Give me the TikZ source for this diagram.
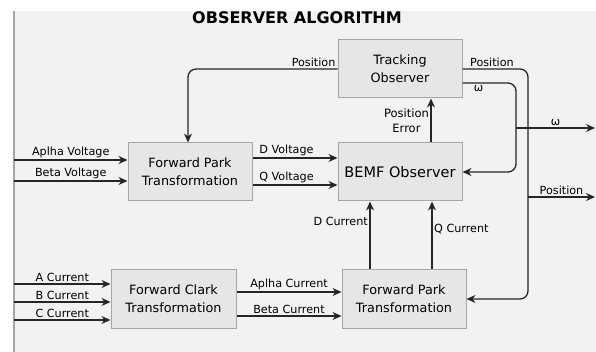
\documentclass[tikz,border=0pt]{standalone}
\usepackage{fontspec}
\setmainfont{DejaVu Sans}
\usetikzlibrary{arrows.meta}

\definecolor{panel}{HTML}{F2F2F2}
\definecolor{boxfill}{HTML}{E6E6E6}
\definecolor{boxline}{HTML}{A6A6A6}
\definecolor{wire}{HTML}{262626}

\begin{document}
\begin{tikzpicture}[x=1pt,y=-1pt,
    blk/.style={draw=boxline,fill=boxfill,line width=1pt,minimum width=124pt,minimum height=58pt,
      align=center,font=\fontsize{12.8}{18}\selectfont},
    lbl/.style={font=\fontsize{11.2}{13}\selectfont,inner sep=1.5pt},
    flow/.style={draw=wire,line width=1.3pt,-{Stealth[length=9pt,width=8pt]}},
    bus/.style={draw=wire,line width=1.3pt,rounded corners=8pt}]

      \useasboundingbox (0,0) rectangle (596,352);
      \fill[white] (0,0) rectangle (596,352);
      \fill[panel] (14,11) rectangle (596,352);
      \draw[boxline,line width=1.2pt] (14,11) -- (14,352);

      \node[font=\fontsize{16}{18}\selectfont\bfseries] (title) at (297,18) {OBSERVER ALGORITHM};

      % blocks
      \node[blk] (track) at (400,69)    {Tracking\\Observer};
      \node[blk,font=\fontsize{14.5}{16}\selectfont] (bemf) at (400,172) {BEMF Observer};
      \node[blk] (parkv) at (190,172)   {Forward Park\\Transformation};
      \node[blk,minimum width=125pt] (clark) at (173.5,299) {Forward Clark\\Transformation};
      \node[blk] (parki) at (404,299)   {Forward Park\\Transformation};

      % helper points
      \coordinate (posbus) at (528,69);
      \coordinate (wbus)   at (516,83);
      \coordinate (wtap)   at (516,128);
      \coordinate (wout)   at (595,128);
      \coordinate (postap) at (528,197);
      \coordinate (posout) at (595,197);
      \coordinate (va) at (14,160);
      \coordinate (vb) at (14,181);
      \coordinate (ia) at (14,284);
      \coordinate (ib) at (14,302);
      \coordinate (ic) at (14,320);

      % feedback from the tracking observer
      \draw[flow,rounded corners=8pt] (track.west) -- node[lbl,above,pos=0.16] {Position} (188,69) -- (parkv.north -| 188,0);
      \draw[flow,bus] (track.east) -- node[lbl,above,pos=0.45] {Position} (posbus) |- (parki.east);
      \draw[flow,bus] (track.east |- wbus) -- node[lbl,below,pos=0.3] {ω} (wbus) |- (bemf.east);
      \draw[flow] (wtap) -- node[lbl,above] {ω} (wout);
      \draw[flow] (postap) -- node[lbl,above] {Position} (posout);
      \draw[flow] (bemf.north -| 431,0) -- node[lbl,left,align=center,font=\fontsize{11.5}{15}\selectfont] {Position\\Error} (track.south -| 431,0);

      % voltages
      \draw[flow] (va) -- node[lbl,above] {Aplha Voltage} (parkv.west |- va);
      \draw[flow] (vb) -- node[lbl,above] {Beta Voltage} (parkv.west |- vb);
      \draw[flow] (parkv.east |- 0,158) -- node[lbl,above,pos=0.4] {D Voltage} (bemf.west |- 0,158);
      \draw[flow] (parkv.east |- 0,185) -- node[lbl,above,pos=0.4] {Q Voltage} (bemf.west |- 0,185);

      % currents
      \draw[flow] (ia) -- node[lbl,above] {A\,\,Current} (clark.west |- ia);
      \draw[flow] (ib) -- node[lbl,above] {B Current} (clark.west |- ib);
      \draw[flow] (ic) -- node[lbl,above] {C Current} (clark.west |- ic);
      \draw[flow] (clark.east |- 0,292) -- node[lbl,above] {Aplha Current} (parki.west |- 0,292);
      \draw[flow] (clark.east |- 0,316) -- node[lbl,above] {Beta Current} (parki.west |- 0,316);
      \draw[flow] (parki.north -| 370,0) -- node[lbl,left,pos=0.7] {D Current} (bemf.south -| 370,0);
      \draw[flow] (parki.north -| 432,0) -- node[lbl,right,pos=0.6] {Q Current} (bemf.south -| 432,0);

\end{tikzpicture}
\end{document}
